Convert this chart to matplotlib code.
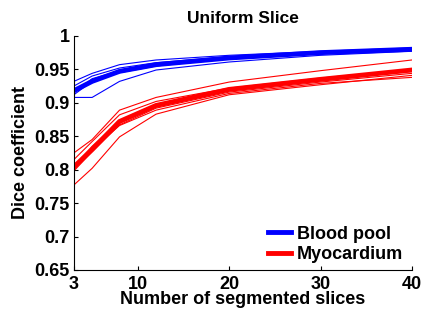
import numpy as np
import matplotlib.pyplot as plt

plt.rcParams['font.family'] = ['Liberation Sans', 'DejaVu Sans']
plt.rcParams['font.weight'] = 'bold'

slices = [3, 5, 8, 12, 20, 30, 40]

# per-case curves (thin) and average (thick)
blood_runs = [
    [0.932, 0.944, 0.957, 0.964, 0.971, 0.977, 0.982],
    [0.925, 0.940, 0.952, 0.960, 0.969, 0.976, 0.981],
    [0.915, 0.936, 0.948, 0.957, 0.967, 0.975, 0.980],
    [0.912, 0.932, 0.945, 0.955, 0.966, 0.974, 0.980],
    [0.908, 0.908, 0.932, 0.949, 0.961, 0.971, 0.977],
]
blood_mean = [0.918, 0.932, 0.947, 0.957, 0.967, 0.975, 0.980]

myo_runs = [
    [0.825, 0.845, 0.889, 0.908, 0.931, 0.948, 0.964],
    [0.815, 0.842, 0.882, 0.902, 0.922, 0.937, 0.950],
    [0.805, 0.835, 0.873, 0.897, 0.919, 0.934, 0.947],
    [0.798, 0.827, 0.867, 0.892, 0.916, 0.931, 0.944],
    [0.800, 0.830, 0.866, 0.889, 0.914, 0.929, 0.938],
    [0.777, 0.802, 0.849, 0.883, 0.912, 0.927, 0.941],
]
myo_mean = [0.804, 0.830, 0.872, 0.896, 0.920, 0.935, 0.949]

fig = plt.figure(figsize=(4.22, 3.15), dpi=100)
ax = fig.add_axes([0.175, 0.143, 0.801, 0.743])

for run in blood_runs:
    ax.plot(slices, run, color='#0000ff', lw=0.8)
for run in myo_runs:
    ax.plot(slices, run, color='#ff0000', lw=0.8)
ax.plot(slices, blood_mean, color='#0000ff', lw=3.5, label='Blood pool')
ax.plot(slices, myo_mean, color='#ff0000', lw=3.5, label='Myocardium')

ax.set_xlim(3, 40)
ax.set_ylim(0.65, 1)
ax.set_xticks([3, 10, 20, 30, 40])
ax.set_yticks([0.65, 0.7, 0.75, 0.8, 0.85, 0.9, 0.95, 1])
ax.set_yticklabels(['0.65', '0.7', '0.75', '0.8', '0.85', '0.9', '0.95', '1'])
ax.tick_params(direction='in', length=3, labelsize=13)
ax.tick_params(axis='x', pad=4)
ax.tick_params(axis='y', pad=3)
ax.spines['top'].set_visible(False)
ax.spines['right'].set_visible(False)

ax.set_xlabel('Number of segmented slices', fontsize=13, fontweight='bold', labelpad=-1)
ax.set_ylabel('Dice coefficient', fontsize=13, fontweight='bold', labelpad=4)
ax.set_title('Uniform Slice', fontsize=12.5, fontweight='bold', pad=9)

leg = ax.legend(loc='lower right', frameon=False, fontsize=13, handlelength=1.3,
                handletextpad=0.3, borderaxespad=0.1, labelspacing=0.2,
                bbox_to_anchor=(1.0, -0.01))

fig.savefig('out.png', dpi=100)
